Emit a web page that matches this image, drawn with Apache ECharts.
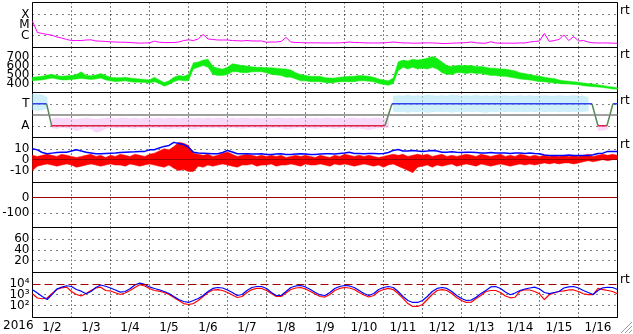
<!DOCTYPE html>
<html><head><meta charset="utf-8">
<script src="https://cdn.jsdelivr.net/npm/echarts@6/dist/echarts.min.js"></script>
<style>html,body{margin:0;padding:0;background:#fff}#c{width:633px;height:334px}</style>
</head><body><div id="c"></div>
<script>
// ---------- data (3-hour samples starting 2016-01-02 00:00 UT) ----------
const DAY_LABELS = ['1/2','1/3','1/4','1/5','1/6','1/7','1/8','1/9','1/10','1/11','1/12','1/13','1/14','1/15','1/16'];
const STEP_H = 3;
const SPAN_H = 360;

// GOES X-ray flux, log10(W/m^2)
const xrayLog = [
 -4.64,-5.71,-5.81,-5.90,-5.97,-6.14,-6.24,-6.38,
 -6.48,-6.48,-6.48,-6.43,-6.41,-6.52,-6.54,-6.57,
 -6.60,-6.62,-6.64,-6.64,-6.67,-6.70,-6.73,-6.71,
 -6.70,-6.54,-6.64,-6.67,-6.67,-6.67,-6.62,-6.48,
 -6.41,-6.48,-6.33,-5.90,-6.33,-6.38,-6.43,-6.43,
 -6.43,-6.48,-6.50,-6.52,-6.48,-6.52,-6.52,-6.52,
 -6.64,-6.62,-6.62,-6.57,-6.19,-6.62,-6.67,-6.67,
 -6.70,-6.70,-6.70,-6.70,-6.71,-6.71,-6.71,-6.70,
 -6.67,-6.62,-6.67,-6.67,-6.70,-6.71,-6.71,-6.71,
 -6.70,-6.67,-6.62,-6.67,-6.71,-6.71,-6.73,-6.73,
 -6.71,-6.70,-6.71,-6.73,-6.76,-6.76,-6.73,-6.71,
 -6.71,-6.67,-6.62,-6.70,-6.73,-6.73,-6.60,-6.71,
 -6.73,-6.73,-6.73,-6.73,-6.71,-6.71,-6.62,-6.57,
 -6.52,-5.80,-6.57,-6.48,-6.38,-5.95,-6.48,-6.10,
 -6.52,-6.48,-6.62,-6.70,-6.71,-6.71,-6.71,-6.73,
 -6.73];

// solar wind speed envelope (km/s)
const speedLo = [
 430,435,440,450,460,450,440,440,
 445,450,455,450,445,450,460,440,
 430,420,425,430,420,415,415,410,
 405,420,400,370,390,420,440,430,
 430,560,580,600,580,500,490,490,
 500,530,530,520,520,530,530,530,
 520,500,495,490,470,470,450,430,
 430,420,420,420,410,405,410,420,
 420,420,420,430,430,425,420,400,
 390,380,400,540,580,560,580,560,
 570,560,580,560,520,500,500,520,
 520,510,520,510,510,500,490,490,
 480,480,470,460,450,445,440,430,
 420,420,410,405,400,395,395,390,
 385,375,370,365,360,355,348,340,
 335];
const speedHi = [
 470,475,480,495,500,490,480,485,
 490,500,530,490,485,495,510,490,
 470,465,465,470,460,455,450,445,
 440,470,440,410,430,470,490,480,
 500,630,640,660,670,590,570,560,
 580,620,610,600,595,585,580,580,
 575,575,570,565,560,550,520,500,
 490,480,480,480,465,460,460,470,
 475,480,480,490,485,480,470,450,
 440,430,460,640,660,650,670,660,
 670,680,700,680,640,600,590,600,
 600,600,600,590,590,580,570,570,
 560,560,550,540,520,510,500,490,
 480,470,460,455,440,430,425,420,
 415,405,400,395,385,378,368,360,
 352];

// IMF sector: [hour, +1 toward / -1 away]
const sectorPts = [[0,1],[8.7,1],[11.8,-1],[216.9,-1],[221.2,1],[344.3,1],[348,-1],[353.5,-1],[357.2,1],[360,1]];

// IMF phi scatter envelopes (sector units)
const awayLo = [
 null,null,null,null,-1.20,-1.25,-1.15,-1.20,
 -1.25,-1.45,-1.30,-1.20,-1.30,-1.60,-1.50,-1.25,
 -1.15,-1.20,-1.20,-1.15,-1.20,-1.25,-1.15,-1.20,
 -1.20,-1.15,-1.20,-1.25,-1.30,-1.20,-1.25,-1.15,
 -1.20,-1.30,-1.25,-1.15,-1.20,-1.20,-1.15,-1.25,
 -1.20,-1.15,-1.20,-1.25,-1.20,-1.15,-1.20,-1.20,
 -1.25,-1.20,-1.15,-1.20,-1.30,-1.25,-1.20,-1.15,
 -1.20,-1.20,-1.25,-1.20,-1.15,-1.20,-1.25,-1.20,
 -1.15,-1.20,-1.25,-1.20,-1.30,-1.35,-1.25,-1.20,
 -1.20,-1.15,null,null,null,null,null,null,
 null,null,null,null,null,null,null,null,
 null,null,null,null,null,null,null,null,
 null,null,null,null,null,null,null,null,
 null,null,null,null,null,null,null,null,
 null,null,null,null,-1.40,-1.40,-1.30,null,
 null];
const awayHi = [
 null,null,null,null,-0.35,-0.30,-0.35,-0.30,
 -0.35,-0.40,-0.35,-0.30,-0.35,-0.40,-0.35,-0.30,
 -0.30,-0.35,-0.30,-0.30,-0.35,-0.30,-0.35,-0.30,
 -0.30,-0.35,-0.30,-0.35,-0.30,-0.30,-0.35,-0.30,
 -0.30,-0.35,-0.30,-0.35,-0.30,-0.35,-0.30,-0.30,
 -0.35,-0.30,-0.35,-0.30,-0.30,-0.35,-0.30,-0.35,
 -0.30,-0.35,-0.30,-0.30,-0.35,-0.30,-0.35,-0.30,
 -0.30,-0.35,-0.30,-0.35,-0.30,-0.30,-0.35,-0.30,
 -0.35,-0.30,-0.30,-0.35,-0.30,-0.35,-0.30,-0.30,
 -0.35,-0.30,null,null,null,null,null,null,
 null,null,null,null,null,null,null,null,
 null,null,null,null,null,null,null,null,
 null,null,null,null,null,null,null,null,
 null,null,null,null,null,null,null,null,
 null,null,null,null,-0.90,-0.95,-0.90,null,
 null];
const towardLo = [
 0.45,0.40,0.45,0.60,null,null,null,null,
 null,null,null,null,null,null,null,null,
 null,null,null,null,null,null,null,null,
 null,null,null,null,null,null,null,null,
 null,null,null,null,null,null,null,null,
 null,null,null,null,null,null,null,null,
 null,null,null,null,null,null,null,null,
 null,null,null,null,null,null,null,null,
 null,null,null,null,null,null,null,null,
 null,null,0.30,0.25,0.30,0.20,0.30,0.25,
 0.30,0.20,0.25,0.30,0.25,0.30,0.20,0.30,
 0.25,0.30,0.25,0.30,0.25,0.20,0.30,0.25,
 0.30,0.25,0.30,0.25,0.30,0.25,0.30,0.25,
 0.30,0.25,0.30,0.30,0.25,0.30,0.25,0.30,
 0.25,0.30,0.35,null,null,null,null,null,
 null];
const towardHi = [
 1.90,1.85,1.80,1.60,null,null,null,null,
 null,null,null,null,null,null,null,null,
 null,null,null,null,null,null,null,null,
 null,null,null,null,null,null,null,null,
 null,null,null,null,null,null,null,null,
 null,null,null,null,null,null,null,null,
 null,null,null,null,null,null,null,null,
 null,null,null,null,null,null,null,null,
 null,null,null,null,null,null,null,null,
 null,null,1.70,1.75,1.70,1.80,1.70,1.75,
 1.70,1.80,1.75,1.70,1.75,1.70,1.80,1.75,
 1.70,1.75,1.70,1.80,1.70,1.75,1.70,1.75,
 1.70,1.75,1.70,1.70,1.75,1.70,1.75,1.70,
 1.70,1.75,1.70,1.70,1.75,1.70,1.70,1.75,
 1.70,1.70,1.60,null,null,null,null,null,
 null];

// IMF |B| (nT)
const btValues = [
 10,9,6.6,5.4,6,6.6,6.9,6.9,
 8,9.1,8,6.9,6.2,5.4,5.4,5.7,
 6,6.2,6.6,6.9,7.1,7.3,7.6,7.6,
 9,9.1,10.8,12.2,13.1,15.9,14.9,14,
 11.2,6.9,6.2,6,5.7,5.4,5.4,6.6,
 8.5,7.1,5.4,5.4,5.4,5.1,5.1,5.4,
 4.8,4.8,5.1,5.4,4.8,4.8,5.1,5.4,
 5.1,4.8,4.8,5.1,5.4,5.4,5.1,5.7,
 6.2,6.9,5.7,5.7,5.4,5.7,5.7,5.4,
 5.7,6.6,8.5,9.4,8,8,8.5,8,
 7.6,8,8.5,8,6.9,6.9,7.3,6.9,
 6.6,6.9,6.9,6.6,6.2,6.2,6.6,6.2,
 6.2,6.2,5.7,6.2,6.2,5.7,6.2,5.7,
 5.4,4.2,3.9,3.9,3.9,3.9,4.2,3.9,
 3.9,3.9,3.9,4.5,5.7,6,7.6,7.6,
 7.6];
// IMF Bz envelope (nT)
const bzHi = [
 4,3,4,5,4,3,5,4,
 3,2,3,4,5,3,4,2,
 4,3,5,4,3,5,4,3,
 5,6,8,10,9,12,16,15,
 13,6,5,4,5,3,4,6,
 7,5,3,4,5,4,3,4,
 3,4,3,4,2,3,4,3,
 4,3,2,4,3,2,4,3,
 5,4,3,4,3,4,3,2,
 3,4,5,4,5,3,4,5,
 4,5,3,4,5,3,4,3,
 4,5,4,3,5,4,3,4,
 5,3,4,3,5,4,3,4,
 3,4,3,4,3,4,3,4,
 3,4,5,3,4,5,4,5,
 4];
const bzLo = [
 -10,-6,-5,-4,-5,-6,-5,-4,
 -5,-7,-6,-5,-4,-5,-6,-5,
 -4,-5,-5,-6,-4,-5,-6,-5,
 -4,-5,-6,-7,-5,-8,-10,-9,
 -11,-11,-6,-7,-5,-6,-5,-4,
 -5,-6,-7,-5,-5,-4,-6,-5,
 -5,-4,-6,-5,-5,-4,-5,-6,
 -4,-5,-5,-4,-5,-6,-4,-5,
 -4,-5,-6,-5,-4,-5,-6,-5,
 -7,-5,-4,-6,-8,-10,-12,-7,
 -6,-5,-7,-5,-6,-5,-4,-6,
 -5,-4,-5,-6,-4,-5,-6,-5,
 -4,-5,-6,-5,-4,-5,-4,-5,
 -4,-3,-4,-3,-4,-3,-3,-4,
 -3,-2,-1,-2,-1,0,-1,0,
 0];

// >2 MeV electron flux, log10, two satellites
const eFluxBlueLog = [
 3.45,3.15,2.83,2.55,3.01,3.52,3.69,3.82,
 3.75,3.47,3.32,3.08,3.29,3.66,3.89,3.77,
 3.61,3.43,3.23,3.29,3.54,3.89,4.06,3.94,
 3.71,3.57,3.45,3.29,3.10,2.83,2.55,2.37,
 2.28,2.46,2.65,2.92,3.29,3.57,3.66,3.61,
 3.43,3.20,2.92,3.01,3.38,3.66,3.75,3.75,
 3.57,3.20,2.92,2.92,3.29,3.66,3.80,3.84,
 3.71,3.47,3.20,2.97,2.92,3.20,3.57,3.75,
 3.84,3.80,3.66,3.38,3.10,2.92,3.10,3.47,
 3.66,3.75,3.66,3.29,2.83,2.46,2.28,2.28,
 2.46,2.83,3.29,3.57,3.66,3.57,3.29,2.92,
 2.65,2.46,2.50,2.76,3.10,3.38,3.71,3.75,
 3.57,3.24,2.99,3.15,3.38,3.52,3.61,3.69,
 3.52,3.20,3.10,3.20,3.29,3.61,3.71,3.75,
 3.61,3.38,3.20,3.01,3.38,3.63,3.68,3.66,
 3.47];
const eFluxRedLog = [
 3.08,2.69,2.62,2.69,3.10,3.47,3.63,3.69,
 3.29,3.01,2.88,3.10,3.38,3.61,3.69,3.38,
 3.34,3.17,3.01,3.15,3.38,3.66,3.91,3.80,
 3.57,3.38,3.32,3.20,3.01,2.74,2.46,2.18,
 2.09,2.18,2.46,2.83,3.20,3.43,3.47,3.38,
 3.20,2.97,2.74,2.83,3.20,3.47,3.57,3.57,
 3.38,3.10,2.83,2.83,3.15,3.47,3.61,3.66,
 3.52,3.29,3.06,2.83,2.78,3.01,3.38,3.57,
 3.66,3.61,3.47,3.20,2.97,2.78,2.92,3.29,
 3.47,3.57,3.47,3.10,2.65,2.18,1.91,1.91,
 2.09,2.55,3.01,3.38,3.47,3.38,3.10,2.74,
 2.46,2.28,2.30,2.65,2.92,3.29,3.38,3.38,
 3.20,2.88,2.71,2.76,3.32,3.45,3.43,3.29,
 3.08,2.55,2.99,3.15,3.29,3.34,3.43,3.43,
 3.29,3.08,3.01,3.01,3.57,3.47,3.38,3.29,
 3.08];

// axis tick labels
const xrayTicks = [[-6,'C'],[-5,'M'],[-4,'X']];
const speedTicks = [[400,'400'],[500,'500'],[600,'600'],[700,'700']];
const sectorTicks = [[1,'T'],[-1,'A']];
const bTicks = [[10,'10'],[0,'0'],[-10,'-10']];
const dstTicks = [[0,'0'],[-100,'-100']];
const kpTicks = [[20,'20'],[40,'40'],[60,'60']];
const eTicks = [[4,'10\u2074'],[3,'10\u00b3'],[2,'10\u00b2']];
const ELECTRON_ALERT_LOG = 4;
const ZERO_REF = 0;

// ---------- layout / style ----------
const FONT = 'DejaVu Sans';
const LEFT = 32.5, WIDTH = 585, PH = 45, TOP0 = 2.5;
const ranges = [[-7.143,-2.857],[300,800],[-2.064,2.027],[-21.06,20.4],[-191,95.5],[-2.5,82],[0.894,5.04]];
const tickSets = [xrayTicks, speedTicks, sectorTicks, bTicks, dstTicks, kpTicks, eTicks];
// dotted grid lines (zero lines are drawn as solid reference lines instead)
const gridLineVals = [[-6,-5,-4],[400,500,600,700],[1,-1],[10,-10],[-100],[20,40,60],[3,2]];

const xy = arr => arr.map((v,i)=>[i*STEP_H, v==null?'-':v]);

const grids=[], xAxes=[], yAxes=[];
for(let k=0;k<7;k++){
  grids.push({left:LEFT, top:TOP0+PH*k, width:WIDTH, height:PH, show:true, borderColor:'#000', borderWidth:1,
    backgroundColor:'rgba(0,0,0,0)', containLabel:false, outerBoundsMode:'none'});
}
for(let k=0;k<7;k++){
  xAxes.push({type:'category', gridIndex:k, data:DAY_LABELS, boundaryGap:true,
    axisLine:{show:false}, axisTick:{show:false},
    axisLabel:{show:k===6, interval:0, margin:4, color:'#000', fontFamily:FONT, fontSize:12},
    splitLine:{show:true, interval:0, lineStyle:{color:'#000', type:[1,3], width:1}}});
}
for(let k=0;k<7;k++){
  xAxes.push({type:'value', gridIndex:k, min:0, max:SPAN_H, show:false});
}
const mapFmt = pairs => v => { const p = pairs.find(q=>Math.abs(q[0]-v)<1e-6); return p?p[1]:''; };
function yAx(k, labelPairs, lineVals){
  return {type:'value', gridIndex:k, position:'left', offset:0, min:ranges[k][0], max:ranges[k][1],
    axisLine:{show:false},
    axisTick:{show:false, customValues:lineVals || labelPairs.map(p=>p[0])},
    axisLabel:{show:labelPairs.length>0, customValues:labelPairs.map(p=>p[0]), showMinLabel:true, showMaxLabel:true,
      margin:3, color:'#000', fontFamily:FONT, fontSize:12, formatter:mapFmt(labelPairs)},
    splitLine:{show:!!lineVals, lineStyle:{color:'#000', type:[1,5], width:1}}};
}
// primary axes (0..6): grid lines + every other label; secondary axes (7..13): remaining labels
for(let k=0;k<7;k++){
  yAxes.push(yAx(k, tickSets[k].filter((p,i)=>i%2===0), gridLineVals[k]));
}
for(let k=0;k<7;k++){
  yAxes.push(yAx(k, tickSets[k].filter((p,i)=>i%2===1), null));
}

const base = {type:'line', symbol:'none', silent:true, animation:false};
const refLine = (val,color,type,width)=>({symbol:'none', silent:true, label:{show:false}, animation:false,
  lineStyle:{color, type:type||'solid', width:width||1}, data:[{yAxis:val}]});

// filled envelope between lo[] and hi[] drawn through the axis scales
function band(k, lo, hi, color, opacity, z){
  const segs=[]; let cur=null;
  for(let i=0;i<lo.length;i++){
    if(lo[i]==null||hi[i]==null){ if(cur){segs.push(cur);cur=null;} continue; }
    if(!cur) cur=[]; cur.push(i);
  }
  if(cur) segs.push(cur);
  return {type:'custom', xAxisIndex:7+k, yAxisIndex:k, silent:true, animation:false, clip:true, z:z||2,
    data: segs.map(s=>[s[0]*STEP_H, lo[s[0]]]),
    renderItem:(params, api)=>{
      const s = segs[params.dataIndex];
      let pts;
      if(s.length===1){ const i=s[0]; const a=api.coord([i*STEP_H,hi[i]]), b=api.coord([i*STEP_H,lo[i]]);
        pts=[[a[0]-1,a[1]],[a[0]+1,a[1]],[b[0]+1,b[1]],[b[0]-1,b[1]]]; }
      else pts = s.map(i=>api.coord([i*STEP_H, hi[i]])).concat(s.slice().reverse().map(i=>api.coord([i*STEP_H, lo[i]])));
      return {type:'polygon', shape:{points:pts}, style:{fill:color, opacity, stroke:color, lineWidth:0.5}};
    }};
}

const series = [];
// panel 1 X-ray
series.push(Object.assign({}, base, {xAxisIndex:7, yAxisIndex:0, data:xy(xrayLog), lineStyle:{color:'#ff00ff', width:1}}));
// panel 2 speed
series.push(band(1, speedLo, speedHi, '#10ee10', 1));
// panel 3 phi scatter + sector line
series.push(band(2, awayLo, awayHi, '#f4b4f4', 0.5));
series.push(band(2, towardLo, towardHi, '#a8e4f8', 0.55));
for(let j=0;j<sectorPts.length-1;j++){
  const a=sectorPts[j], b=sectorPts[j+1];
  const col = (a[1]===1&&b[1]===1)?'#3344ee':(a[1]===-1&&b[1]===-1)?'#dd2244':'#558855';
  const s = Object.assign({}, base, {xAxisIndex:9, yAxisIndex:2, data:[a,b], lineStyle:{color:col, width:1.5}, z:4});
  if(j===0) s.markLine = refLine(ZERO_REF,'#808080','solid',1.5);
  series.push(s);
}
// panel 4 IMF
series.push(band(3, bzLo, bzHi, '#ff0000', 1));
series.push(Object.assign({}, base, {xAxisIndex:10, yAxisIndex:3, data:xy(btValues), lineStyle:{color:'#0000ff', width:1.5}, z:4,
  markLine:refLine(ZERO_REF,'#a00000','solid',1.2)}));
// panel 5 Dst (no values in window; only zero reference)
series.push(Object.assign({}, base, {xAxisIndex:11, yAxisIndex:4, data:[[0,ZERO_REF]], lineStyle:{width:0},
  markLine:refLine(ZERO_REF,'#a00000','solid',1.2)}));
// panel 7 electrons
series.push(Object.assign({}, base, {xAxisIndex:13, yAxisIndex:6, data:xy(eFluxRedLog), lineStyle:{color:'#ff0000', width:1.2},
  markLine:refLine(ELECTRON_ALERT_LOG,'#a00000',[8,4],1.2)}));
series.push(Object.assign({}, base, {xAxisIndex:13, yAxisIndex:6, data:xy(eFluxBlueLog), lineStyle:{color:'#0000ff', width:1.2}}));

const txt = (x,y,t)=>({type:'text', left:x, top:y, silent:true, style:{text:t, font:'12px '+FONT, fill:'#000'}});
const graphic = [
  txt(3,320,'2016'),
  txt(620,5,'rt'), txt(620,49,'rt'), txt(620,95,'rt'), txt(620,139,'rt'), txt(620,274,'rt'),
  {type:'line', silent:true, shape:{x1:621,y1:333,x2:632,y2:322}, style:{stroke:'#999',lineWidth:1}},
  {type:'line', silent:true, shape:{x1:625,y1:333,x2:632,y2:326}, style:{stroke:'#999',lineWidth:1}},
  {type:'line', silent:true, shape:{x1:629,y1:333,x2:632,y2:330}, style:{stroke:'#999',lineWidth:1}}
];

const chart = echarts.init(document.getElementById('c'), null, {renderer:'canvas'});
chart.setOption({animation:false, backgroundColor:'#fff', grid:grids, xAxis:xAxes, yAxis:yAxes, series, graphic});
</script></body></html>
